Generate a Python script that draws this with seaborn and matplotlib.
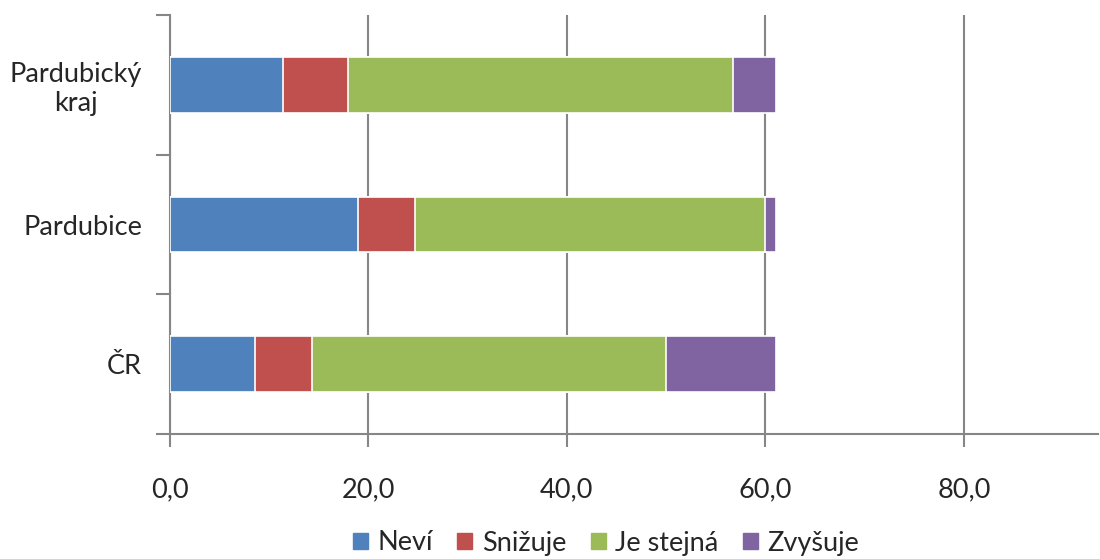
import numpy as np
import pandas as pd
import matplotlib
matplotlib.use("Agg")
import matplotlib.pyplot as plt
import matplotlib.patches as mpatches
import seaborn as sns

# data
regions = ["Pardubický\nkraj", "Pardubice", "ČR"]
series = ["Neví", "Snižuje", "Je stejná", "Zvyšuje"]
nevi = [11.4, 19.0, 8.6]
snizuje = [6.5, 5.7, 5.7]
stejna = [38.8, 35.3, 35.7]
zvysuje = [4.4, 1.1, 11.1]
xticks = [0, 20, 40, 60, 80]

COLORS = {"Neví": "#4F81BD", "Snižuje": "#C0504D",
          "Je stejná": "#9BBB59", "Zvyšuje": "#8064A2"}
GRID = "#868686"
FS = 19.5

sns.set_theme(style="white")
plt.rcParams["font.family"] = ["Lato", "DejaVu Sans"]

values = {"Neví": nevi, "Snižuje": snizuje, "Je stejná": stejna, "Zvyšuje": zvysuje}
cum = np.cumsum(np.array([values[s] for s in series]), axis=0)
df = pd.DataFrame({
    "region": np.tile(regions, len(series)),
    "series": np.repeat(series, len(regions)),
    "cum": cum.ravel(),
})

fig = plt.figure(figsize=(11, 5.59), dpi=100)
ax = fig.add_axes([0.1545, 0.2236, 0.8435, 0.7495])

# draw cumulative totals from the largest down so each segment shows
for s in reversed(series):
    sub = df[df["series"] == s]
    sns.barplot(data=sub, x="cum", y="region", order=regions, color=COLORS[s],
                width=0.4, edgecolor="white", linewidth=1.2, saturation=1,
                ax=ax, zorder=3)

ax.set_xlim(0, 93.5)
ax.set_ylim(2.5, -0.5)
ax.set_xticks(xticks)
ax.set_xticklabels([f"{v:.1f}".replace(".", ",") for v in xticks], fontsize=FS)
ax.set_xlabel("")
ax.set_ylabel("")
ax.tick_params(axis="y", which="major", length=0, pad=20, labelsize=FS)
ax.set_yticks(np.arange(-0.5, 3, 1), minor=True)
ax.tick_params(axis="y", which="minor", length=10, width=1.5, color=GRID, direction="out", left=True)
ax.tick_params(axis="x", length=9, width=1.5, color=GRID, direction="out", pad=22, bottom=True)
for lab in ax.get_yticklabels():
    lab.set_multialignment("center")

ax.xaxis.grid(True, color=GRID, linewidth=1.5)
ax.set_axisbelow(True)
for side in ["top", "right"]:
    ax.spines[side].set_visible(False)
for side in ["left", "bottom"]:
    ax.spines[side].set_color(GRID)
    ax.spines[side].set_linewidth(1.5)

handles = [mpatches.Patch(color=COLORS[s], label=s) for s in series]
fig.legend(handles=handles, loc="center", bbox_to_anchor=(606 / 1100, 1 - 543 / 559),
           ncol=4, frameon=False, fontsize=FS, handlelength=0.55, handleheight=0.55,
           handletextpad=0.35, columnspacing=0.9)

fig.savefig("out.png", dpi=100)
